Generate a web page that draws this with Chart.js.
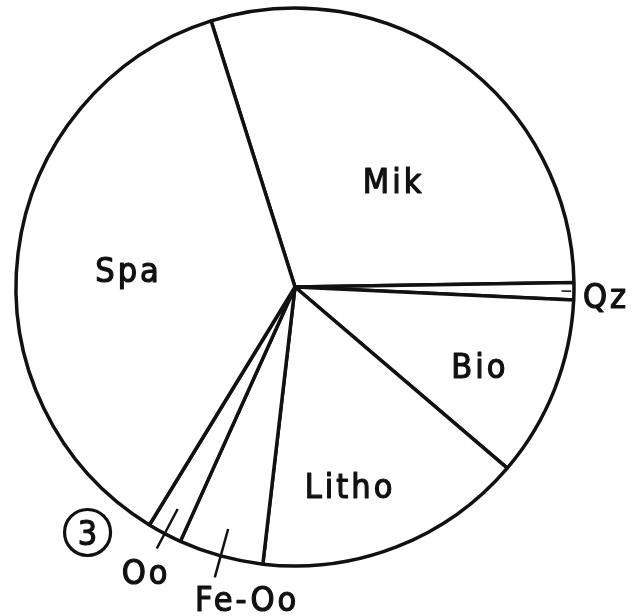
<!DOCTYPE html>
<html>
<head>
<meta charset="utf-8">
<script src="https://cdn.jsdelivr.net/npm/chart.js@4.4.1/dist/chart.umd.min.js"></script>
<style>
html,body{margin:0;padding:0;background:#fff;}
#wrap{width:634px;height:616px;}
</style>
</head>
<body>
<div id="wrap"><canvas id="chartKomp"></canvas></div>
<script>
// Komponenten im Uhrzeigersinn, ab der Grenze Spa/Mik
const komponenten = ['Mik','Qz','Bio','Litho','Fe-Oo','Oo','Spa'];
const anteile = [29.6, 1.0, 10.5, 15.6, 4.9, 2.0, 36.4];
const probeNr = '3';

// Lage der Beschriftung: [Winkelversatz (Grad), Anteil am Radius]
const beschriftung = {
  'Mik':[7,0.52], 'Qz':[0.8,1.115], 'Bio':[1.5,0.72], 'Litho':[6,0.74],
  'Fe-Oo':[-6.7,1.13], 'Oo':[-0.2,1.15], 'Spa':[-1,0.60]
};
// Zuordnungsstriche: [von, bis] als Anteil am Radius
const striche = { 'Oo':[0.90,1.06], 'Fe-Oo':[0.90,1.08], 'Qz':[0.955,0.99] };

const FONT = '34px "DejaVu Sans Condensed", "DejaVu Sans", sans-serif';
const INK = '#111';

const deg = Math.PI/180;

const labelPlugin = {
  id:'sliceLabels',
  afterDatasetsDraw(chart){
    const ctx = chart.ctx;
    const arcs = chart.getDatasetMeta(0).data;
    ctx.save();
    ctx.fillStyle = INK; ctx.strokeStyle = INK;
    ctx.font = FONT;
    ctx.letterSpacing = '3px';
    ctx.textAlign = 'center'; ctx.textBaseline = 'alphabetic';
    ctx.lineJoin = 'round';
    const text = (t,x,y)=>{ ctx.lineWidth = 1.2; ctx.fillText(t,x,y); ctx.strokeText(t,x,y); };
    let cx = 0, cy = 0, R = 0;
    arcs.forEach((arc,i)=>{
      const p = arc.getProps(['x','y','startAngle','endAngle','outerRadius'], true);
      cx = p.x; cy = p.y; R = p.outerRadius;
      const name = komponenten[i];
      const mid = (p.startAngle + p.endAngle)/2;
      const [nudge, frac] = beschriftung[name];
      const a = mid + nudge*deg;
      text(name, p.x + Math.cos(a)*R*frac, p.y + Math.sin(a)*R*frac + 12.4);
      const s = striche[name];
      if(s){
        ctx.lineWidth = name==='Qz' ? 1.5 : 2.5;
        ctx.beginPath();
        ctx.moveTo(p.x + Math.cos(mid)*R*s[0], p.y + Math.sin(mid)*R*s[0]);
        ctx.lineTo(p.x + Math.cos(mid)*R*s[1], p.y + Math.sin(mid)*R*s[1]);
        ctx.stroke();
      }
    });
    // Probennummer im Kreis
    const a = 130.2*deg, d = R*1.152;
    const px = cx + Math.cos(a)*d, py = cy + Math.sin(a)*d;
    ctx.lineWidth = 3.2;
    ctx.beginPath(); ctx.arc(px, py, 23, 0, Math.PI*2); ctx.stroke();
    ctx.letterSpacing = '0px';
    text(probeNr, px, py + 12.4);
    ctx.restore();
  }
};

new Chart(document.getElementById('chartKomp'), {
  type:'pie',
  data:{
    labels: komponenten,
    datasets:[{
      data: anteile,
      backgroundColor:'#fff',
      borderColor: INK,
      borderWidth:3.5,
      hoverOffset:0
    }]
  },
  options:{
    responsive:true,
    maintainAspectRatio:false,
    animation:false,
    rotation:-17.5,
    radius:279,
    layout:{ padding:{ left:0, right:44, top:0, bottom:42 } },
    plugins:{ legend:{display:false}, tooltip:{enabled:false} }
  },
  plugins:[labelPlugin]
});
</script>
</body>
</html>
